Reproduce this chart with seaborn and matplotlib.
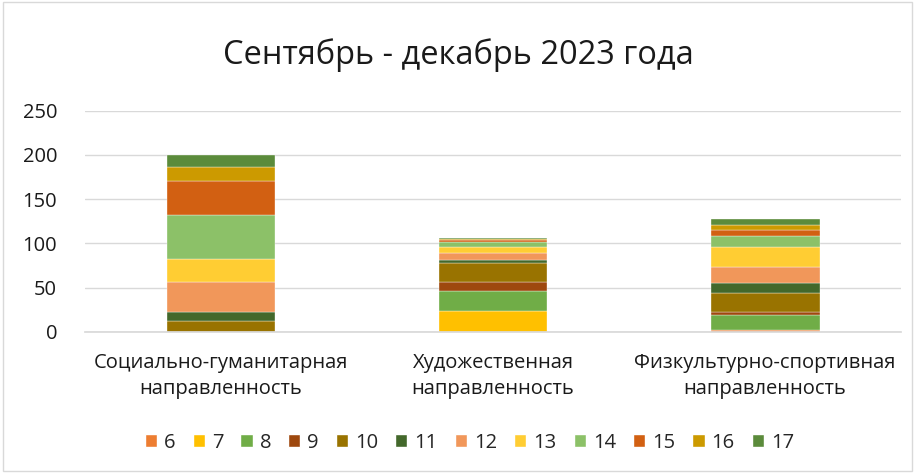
import numpy as np
import matplotlib
matplotlib.use("Agg")
import matplotlib.pyplot as plt
import seaborn as sns
from matplotlib.patches import Patch, Rectangle

categories = ["Социально-гуманитарная\nнаправленность",
              "Художественная\nнаправленность",
              "Физкультурно-спортивная\nнаправленность"]
series = ["6", "7", "8", "9", "10", "11", "12", "13", "14", "15", "16", "17"]

# values per series (one per category)
s6 = [0, 0, 2]
s7 = [0, 24, 0]
s8 = [0, 22, 17]
s9 = [0, 10, 3]
s10 = [12, 22, 22]
s11 = [10, 3, 11]
s12 = [34, 8, 18]
s13 = [26, 7, 23]
s14 = [50, 6, 12]
s15 = [38, 2, 7]
s16 = [16, 1, 6]
s17 = [14, 1, 7]
values = [s6, s7, s8, s9, s10, s11, s12, s13, s14, s15, s16, s17]

colors = ["#ED7D31", "#FFC000", "#70AD47", "#9E480E", "#997300", "#43682B",
          "#F1975A", "#FFCD33", "#8CC168", "#D26012", "#CC9A00", "#5B8B3B"]

sns.set_theme(style="white")
plt.rcParams["font.family"] = ["Open Sans", "DejaVu Sans"]

fig = plt.figure(figsize=(9.17, 4.74), dpi=100)
ax = fig.add_axes([0.0927, 0.300, 0.890, 0.4665])

bottom = np.zeros(len(categories))
for name, vals, c in zip(series, values, colors):
    sns.barplot(x=categories, y=vals, bottom=bottom, color=c, width=0.4,
                edgecolor="white", linewidth=0.25, ax=ax, saturation=1)
    bottom += np.array(vals)

ax.set_ylim(0, 250)
ax.set_yticks(range(0, 251, 50))
ax.yaxis.grid(True, color="#D9D9D9", linewidth=1)
ax.set_axisbelow(True)
for s in ["top", "right", "left"]:
    ax.spines[s].set_visible(False)
ax.spines["bottom"].set_color("#D9D9D9")
ax.tick_params(axis="both", length=0, colors="#1a1a1a")
ax.tick_params(axis="y", pad=20, labelsize=14.5)
ax.tick_params(axis="x", pad=15, labelsize=14.5)
for lbl in ax.get_xticklabels():
    lbl.set_linespacing(1.45)
ax.set_xlabel("")
ax.set_ylabel("")

fig.suptitle("Сентябрь - декабрь 2023 года", y=0.92, fontsize=23.5, color="#1a1a1a")

handles = [Patch(facecolor=c, label=n) for n, c in zip(series, colors)]
fig.legend(handles=handles, loc="center", bbox_to_anchor=(0.512, 0.066), ncol=12,
           frameon=False, fontsize=14.5, handlelength=0.6, handleheight=0.6,
           handletextpad=0.35, columnspacing=0.85)

fig.patches.append(Rectangle((0.003, 0.006), 0.992, 0.99, transform=fig.transFigure,
                             fill=False, edgecolor="#D9D9D9", linewidth=1))

fig.savefig("out.png", dpi=100)
